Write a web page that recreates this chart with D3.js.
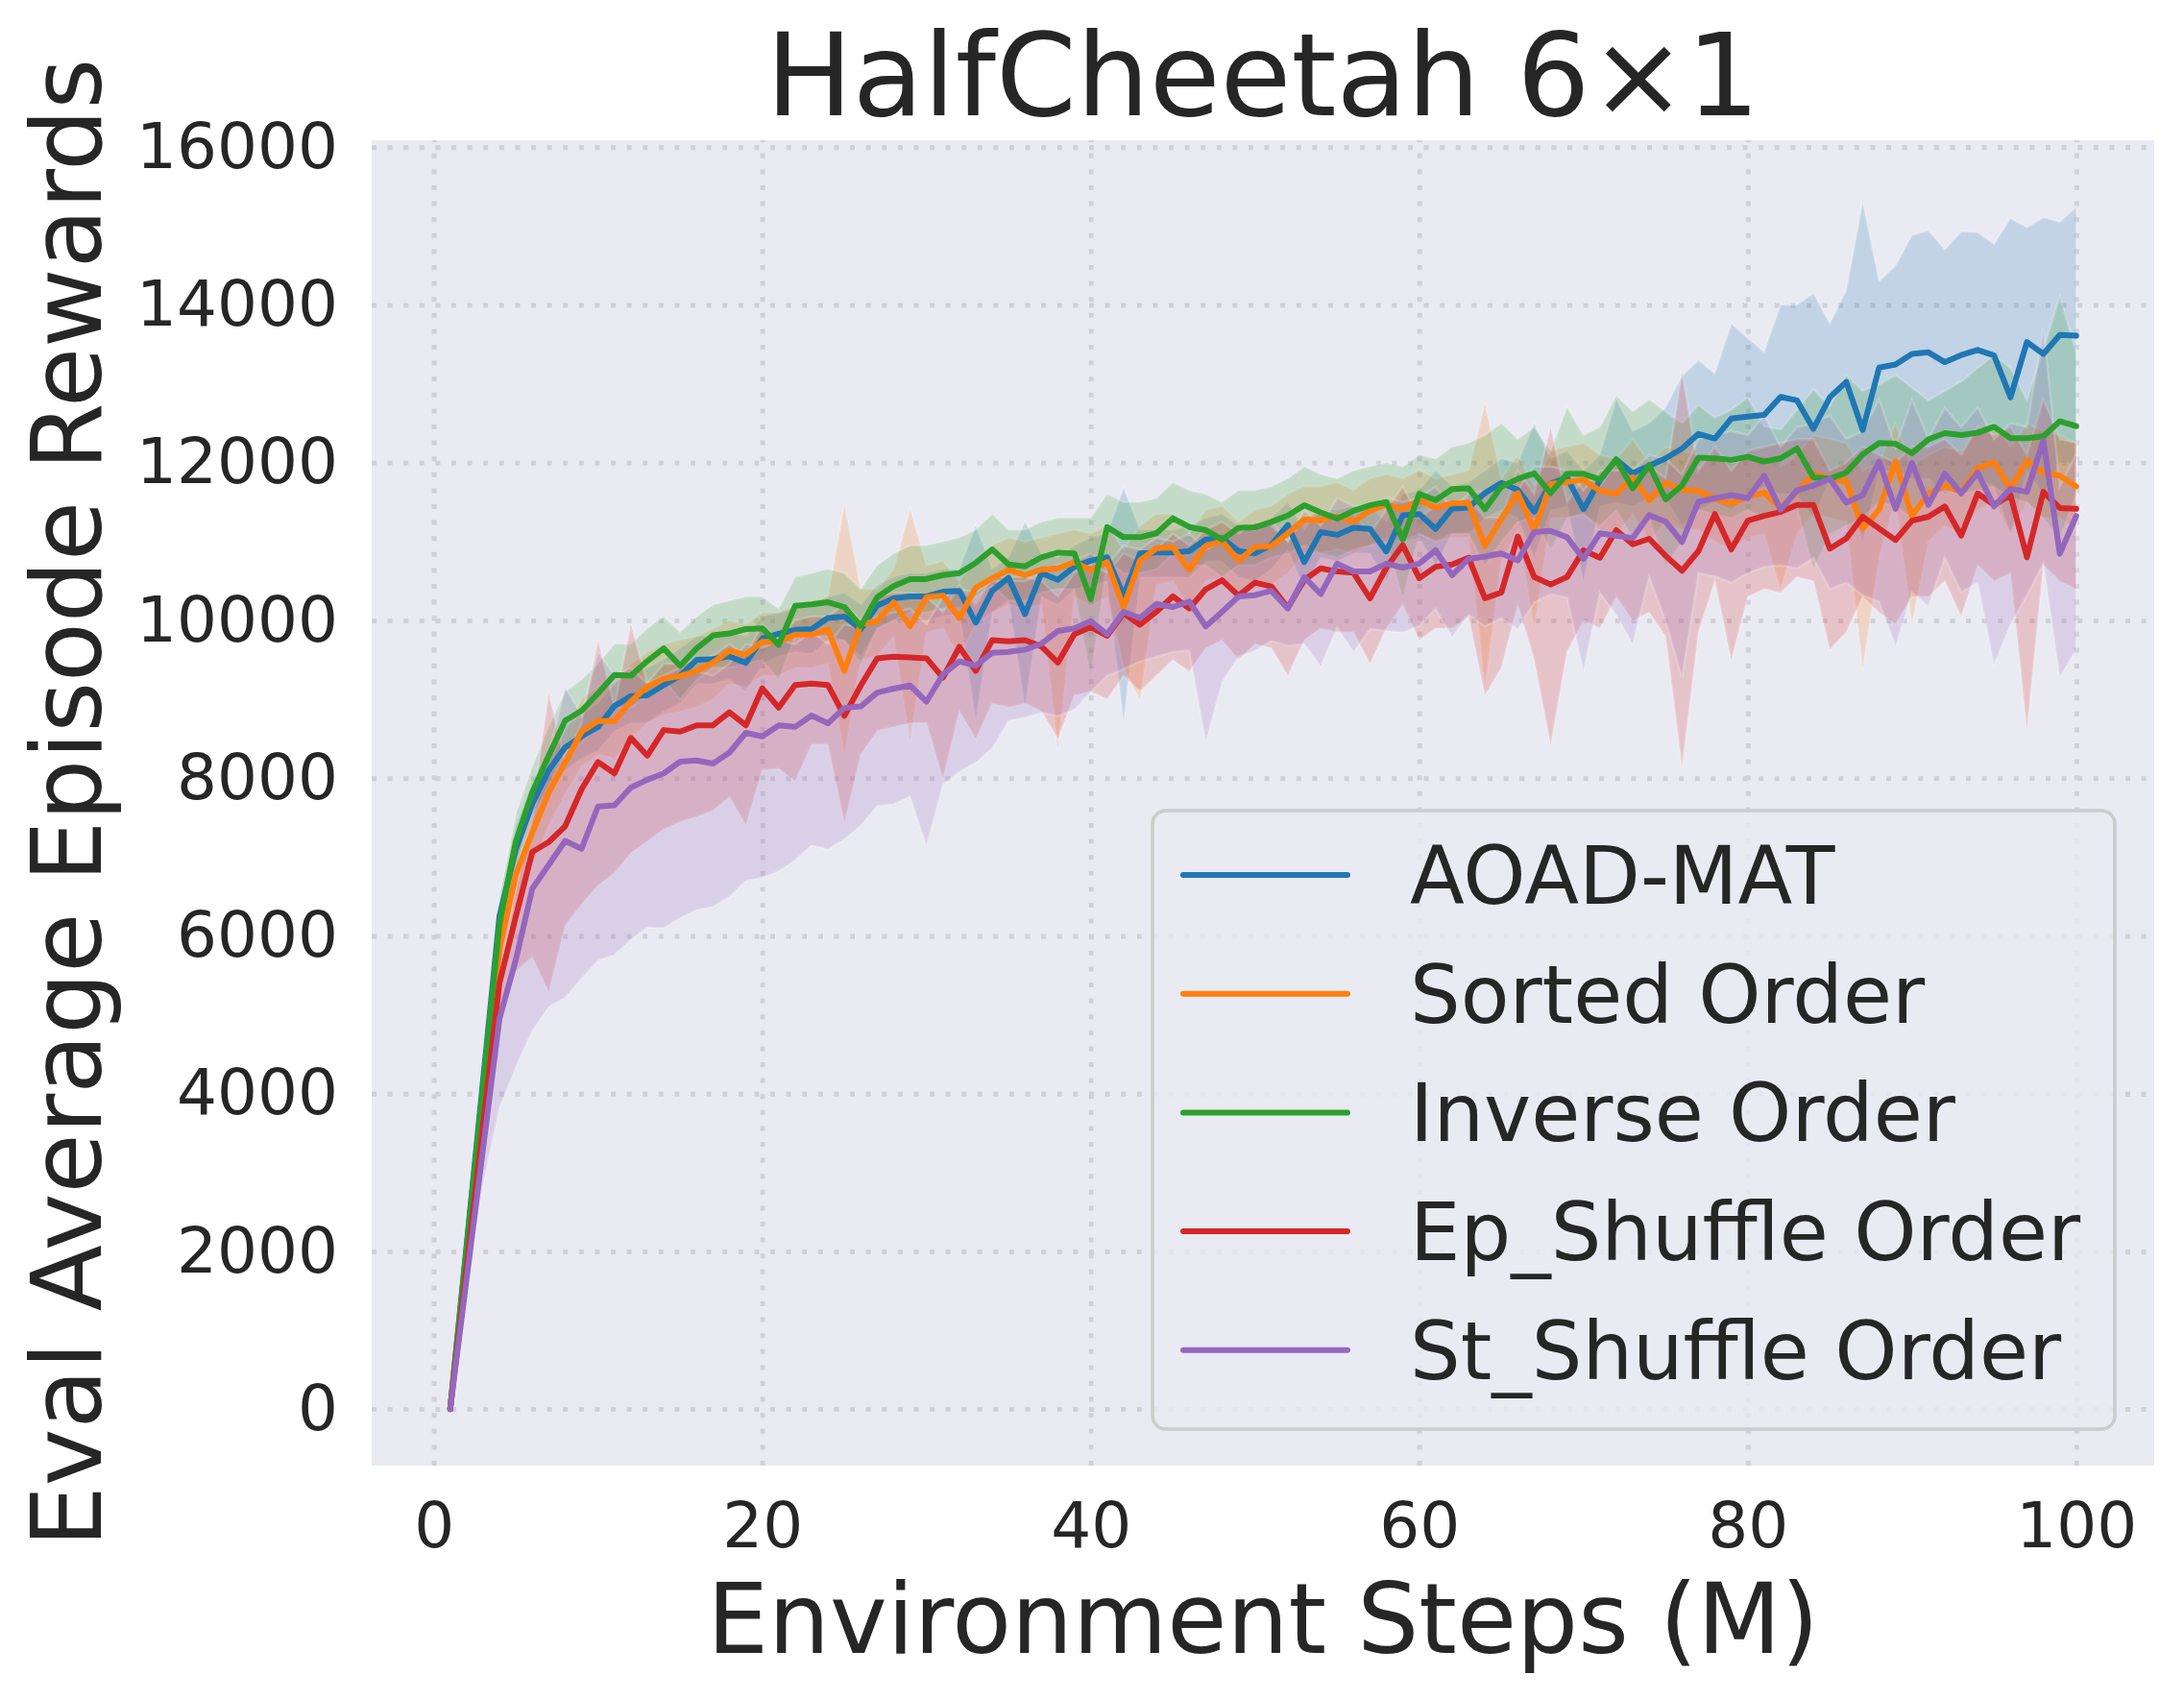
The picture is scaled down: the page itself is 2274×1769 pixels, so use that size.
<!DOCTYPE html>
<html>
<head>
<meta charset="utf-8">
<script src="https://cdn.jsdelivr.net/npm/d3@7"></script>
<style>
body { margin: 0; background: #fff; }
text { font-family: "DejaVu Sans", sans-serif; fill: #262626; }
</style>
</head>
<body>
<svg class="chart"></svg>
<script>

// environment steps (M), one eval per million steps
var steps = d3.range(1, 101);

var xTicks = [0, 20, 40, 60, 80, 100];
var yTicks = [0, 2000, 4000, 6000, 8000, 10000, 12000, 14000, 16000];

var names = ["AOAD-MAT", "Sorted Order", "Inverse Order", "Ep_Shuffle Order", "St_Shuffle Order"];
var colors = ["#1f77b4", "#ff7f0e", "#2ca02c", "#d62728", "#9467bd"];

// mean curves
var aoadMat = [0, 2080, 4170, 6250, 7100, 7675, 8100, 8390, 8530, 8650,
  8915, 9040, 9050, 9180, 9300, 9500, 9510, 9545, 9460, 9770,
  9830, 9880, 9890, 10030, 10050, 9890, 10190, 10280, 10305, 10305,
  10365, 10375, 9970, 10375, 10540, 10080, 10600, 10515, 10680, 10760,
  10800, 10315, 10850, 10860, 10860, 10880, 11025, 11045, 10880, 10850,
  10960, 11210, 10740, 11120, 11085, 11175, 11160, 10875, 11335, 11350,
  11160, 11420, 11430, 11615, 11745, 11655, 11380, 11735, 11810, 11410,
  11775, 12040, 11865, 11960, 12055, 12180, 12365, 12305, 12560, 12585,
  12605, 12835, 12790, 12430, 12830, 13025, 12415, 13205, 13245, 13380,
  13400, 13275, 13365, 13430, 13360, 12830, 13530, 13380, 13620, 13610];

var sortedOrder = [0, 1950, 3900, 5830, 6780, 7310, 7820, 8200, 8590, 8725,
  8725, 8975, 9160, 9260, 9295, 9360, 9465, 9615, 9565, 9730,
  9730, 9820, 9820, 9885, 9360, 9955, 9990, 10230, 9925, 10295,
  10315, 10030, 10415, 10535, 10640, 10575, 10645, 10660, 10740, 10640,
  10740, 10170, 10760, 10915, 10925, 10640, 10945, 11005, 10760, 10930,
  10945, 11105, 11280, 11270, 11320, 11255, 11390, 11470, 11410, 11525,
  11430, 11485, 11490, 10945, 11290, 11615, 11145, 11730, 11755, 11785,
  11645, 11605, 11815, 11525, 11745, 11660, 11640, 11540, 11480, 11570,
  11620, 11425, 11630, 11855, 11795, 11770, 11165, 11405, 12015, 11325,
  11610, 11710, 11630, 11935, 12005, 11670, 12025, 11875, 11835, 11700];

var inverseOrder = [0, 2050, 4100, 6150, 7200, 7820, 8285, 8730, 8855, 9075,
  9310, 9300, 9485, 9645, 9425, 9645, 9810, 9835, 9890, 9900,
  9690, 10185, 10205, 10230, 10170, 9925, 10295, 10435, 10525, 10525,
  10575, 10600, 10730, 10900, 10710, 10685, 10800, 10860, 10850, 10270,
  11185, 11055, 11055, 11105, 11295, 11185, 11145, 11025, 11175, 11180,
  11250, 11330, 11460, 11370, 11290, 11390, 11460, 11500, 11025, 11605,
  11525, 11665, 11675, 11410, 11695, 11795, 11865, 11615, 11860, 11860,
  11785, 12040, 11675, 11970, 11535, 11710, 12065, 12055, 12035, 12075,
  12015, 12055, 12180, 11815, 11795, 11875, 12105, 12250, 12240, 12120,
  12295, 12375, 12350, 12380, 12455, 12310, 12310, 12335, 12525, 12465];

var epShuffle = [0, 1800, 3600, 5400, 6250, 7065, 7190, 7390, 7860, 8205,
  8060, 8510, 8285, 8610, 8590, 8670, 8670, 8835, 8670, 9140,
  8895, 9180, 9200, 9180, 8790, 9175, 9520, 9540, 9530, 9520,
  9275, 9665, 9360, 9750, 9735, 9750, 9670, 9465, 9825, 9915,
  9805, 10090, 9945, 10110, 10305, 10150, 10395, 10510, 10315, 10480,
  10430, 10160, 10515, 10660, 10620, 10605, 10280, 10670, 10955, 10535,
  10680, 10710, 10795, 10280, 10355, 11065, 10550, 10455, 10550, 10890,
  10795, 11145, 10965, 11035, 10820, 10630, 10880, 11350, 10900, 11265,
  11325, 11375, 11465, 11465, 10910, 11040, 11315, 11165, 11020, 11265,
  11315, 11445, 11075, 11610, 11465, 11590, 10800, 11630, 11425, 11415];

var stShuffle = [0, 1650, 3300, 4950, 5700, 6600, 6900, 7205, 7105, 7640,
  7655, 7880, 7980, 8060, 8210, 8225, 8185, 8325, 8575, 8530,
  8670, 8650, 8795, 8695, 8890, 8910, 9085, 9135, 9175, 8970,
  9315, 9480, 9425, 9590, 9600, 9630, 9705, 9865, 9900, 9990,
  9825, 10110, 10030, 10210, 10170, 10240, 9925, 10110, 10305, 10320,
  10375, 10150, 10550, 10335, 10720, 10620, 10620, 10720, 10670, 10720,
  10890, 10575, 10780, 10810, 10850, 10760, 11120, 11135, 11055, 10780,
  11105, 11075, 11045, 11335, 11255, 10995, 11505, 11550, 11590, 11550,
  11835, 11405, 11650, 11710, 11795, 11495, 11590, 12015, 11415, 11995,
  11465, 11860, 11610, 11875, 11445, 11670, 11630, 12280, 10845, 11325];

// shaded band edges (lower / upper)
var aoadMatLo = [0, 1950, 3950, 6000, 6800, 7400, 7850, 8100, 8250, 8350,
  8600, 8700, 8700, 8850, 8950, 9200, 9200, 9250, 9100, 9450,
  9550, 9600, 9580, 9750, 9750, 9550, 9900, 10000, 10000, 10000,
  10050, 10100, 8730, 10100, 10250, 8910, 10300, 10200, 10400, 10450,
  10500, 8710, 10550, 10550, 10550, 10550, 10750, 10750, 10550, 10500,
  10650, 10900, 10400, 10800, 10750, 10850, 10850, 10500, 11000, 11050,
  10700, 11100, 11100, 11300, 11400, 11300, 10800, 11400, 11450, 10500,
  11450, 11500, 11450, 11550, 11550, 11200, 11400, 11500, 11400, 11600,
  11700, 11600, 11600, 11300, 11800, 11700, 11000, 11900, 11900, 11800,
  11800, 11600, 11700, 11800, 11700, 11100, 11900, 11600, 12000, 12000];
var aoadMatHi = [0, 2200, 4400, 6500, 7400, 7950, 8350, 8650, 8800, 8950,
  9200, 9350, 9400, 9500, 9650, 9800, 9800, 9850, 9800, 10050,
  10100, 10150, 10200, 10300, 10350, 10200, 10450, 10550, 10600, 10600,
  10650, 10650, 11200, 10650, 10800, 11250, 10850, 10800, 10950, 11050,
  11100, 11680, 11150, 11150, 11150, 11200, 11300, 11350, 11200, 11150,
  11300, 11500, 11150, 11400, 11400, 11450, 11450, 11250, 11600, 11650,
  11900, 11700, 11750, 11900, 12050, 12000, 12500, 12050, 12150, 11900,
  12100, 12800, 12400, 12500, 12700, 13100, 13300, 13130, 13760, 13580,
  13400, 14000, 14000, 14150, 13760, 14190, 15300, 14300, 14500, 14880,
  14940, 14700, 14930, 14920, 14770, 15100, 14980, 15110, 15050, 15240];

var sortedOrderLo = [0, 1800, 3600, 5450, 6350, 6900, 7400, 7800, 8150, 8300,
  8250, 8500, 8700, 8800, 8850, 8900, 9000, 9200, 9150, 9300,
  9300, 9400, 9400, 9450, 8300, 9500, 9550, 9800, 8460, 9850,
  9900, 9550, 9950, 10100, 10200, 10150, 10200, 8360, 10300, 10200,
  10300, 9400, 8990, 10450, 10500, 10150, 10500, 10550, 10300, 10450,
  10450, 10600, 10850, 10850, 10900, 10850, 10950, 11050, 11000, 11100,
  11000, 11050, 11050, 9150, 10750, 11150, 9900, 11300, 11300, 11350,
  11150, 11100, 11350, 11000, 11250, 11150, 11150, 11000, 10900, 11050,
  11100, 10380, 11100, 11350, 11300, 11250, 9380, 10800, 11550, 9950,
  11000, 11200, 11100, 11400, 11500, 11100, 11500, 11300, 11300, 11150];
var sortedOrderHi = [0, 2100, 4200, 6200, 7200, 7700, 8200, 8600, 9000, 9150,
  9200, 9450, 9600, 9700, 9750, 9800, 9900, 10000, 9950, 10100,
  10100, 10200, 10250, 10300, 11470, 10400, 10400, 10650, 11410, 10700,
  10750, 10500, 10800, 10950, 11050, 11000, 11050, 11100, 11150, 11100,
  11200, 10900, 11200, 11350, 11350, 11100, 11400, 11450, 11250, 11400,
  11450, 11600, 11700, 11700, 11750, 11650, 11800, 11850, 11800, 11900,
  11800, 11850, 11900, 12750, 11800, 12100, 11700, 12150, 12200, 12250,
  12100, 12050, 12300, 12000, 12200, 12150, 12100, 12050, 12000, 12050,
  12100, 11950, 12100, 12350, 12300, 12250, 11900, 12000, 12500, 11950,
  12100, 12200, 12150, 12450, 12500, 12200, 12500, 12400, 12350, 12250];

var inverseOrderLo = [0, 1900, 3800, 5850, 6850, 7500, 7900, 8350, 8450, 8700,
  8900, 8900, 9050, 9250, 9000, 9250, 9400, 9400, 9450, 9500,
  9250, 9800, 9800, 9800, 9750, 9450, 9900, 10000, 10100, 10100,
  10150, 10150, 10300, 10450, 10250, 10250, 10350, 10400, 10400, 9300,
  10750, 10600, 10600, 10650, 10850, 10700, 10700, 10550, 10700, 10700,
  10800, 10850, 10950, 10850, 10800, 10900, 10950, 11000, 10300, 11100,
  11000, 11100, 11100, 10700, 11000, 11250, 11300, 10900, 11300, 11350,
  11200, 11400, 11050, 11300, 10700, 11000, 11400, 11350, 11300, 11400,
  11300, 11350, 11450, 10650, 11100, 11200, 11300, 11500, 11450, 11300,
  11550, 11650, 11600, 11650, 11700, 11550, 11500, 11300, 11050, 11600];
var inverseOrderHi = [0, 2200, 4400, 6450, 7550, 8150, 8650, 9100, 9250, 9450,
  9700, 9700, 9900, 10050, 9850, 10050, 10200, 10250, 10300, 10300,
  10150, 10550, 10600, 10650, 10600, 10400, 10700, 10850, 10950, 10950,
  11000, 11050, 11150, 11350, 11150, 11150, 11250, 11300, 11300, 11300,
  11600, 11500, 11500, 11550, 11750, 11650, 11600, 11500, 11650, 11650,
  11700, 11800, 11950, 11850, 11800, 11900, 11950, 12000, 11950, 12100,
  12050, 12200, 12250, 12350, 12500, 12300, 12450, 12150, 12700, 12350,
  12450, 12850, 12650, 12800, 12650, 12500, 12730, 12570, 12670, 12830,
  12460, 12420, 12670, 12930, 12710, 13110, 12910, 12990, 13110, 12950,
  12790, 12910, 13030, 13200, 13360, 13200, 12790, 13440, 14110, 13400];

var epShuffleLo = [0, 1650, 3300, 4950, 5550, 5730, 5290, 6130, 6400, 6640,
  6800, 7050, 7200, 7350, 7450, 7510, 7590, 7760, 7410, 8100,
  8120, 7960, 8430, 8430, 7430, 8300, 8600, 8650, 8700, 8700,
  8000, 8850, 8500, 8950, 8900, 8950, 8850, 8500, 9050, 9100,
  9000, 9300, 9100, 9300, 9500, 9350, 9650, 9750, 9500, 9700,
  9650, 9300, 9750, 9900, 9850, 9850, 9450, 9900, 10200, 9750,
  9900, 9900, 10050, 9050, 9400, 10200, 9500, 8420, 9600, 10000,
  9900, 10300, 10000, 10100, 9800, 8140, 9850, 10500, 9500, 10300,
  10400, 10350, 10550, 10500, 9630, 9850, 10300, 10100, 9950, 10300,
  10300, 10500, 10050, 10700, 10500, 10600, 8610, 10700, 10500, 10400];
var epShuffleHi = [0, 1950, 3900, 5800, 6800, 7600, 9080, 8200, 8700, 9750,
  8900, 9950, 9200, 9450, 9450, 9500, 9550, 9700, 9550, 9950,
  9750, 10000, 10050, 10050, 10200, 10000, 10300, 10350, 10350, 10300,
  10100, 10450, 10200, 10550, 10550, 10550, 10500, 10300, 10600, 10700,
  10600, 10850, 10750, 10900, 11100, 10950, 11150, 11250, 11100, 11250,
  11200, 11000, 11300, 11400, 11350, 11350, 11100, 11400, 11700, 11300,
  11450, 11500, 11550, 11300, 11300, 11900, 11600, 12450, 11500, 11800,
  11700, 12000, 11900, 11950, 11800, 13150, 11900, 12200, 11900, 12150,
  12200, 12250, 12300, 12300, 11900, 12000, 12200, 12100, 12000, 12200,
  12200, 12300, 12100, 12450, 12350, 12450, 12100, 12800, 12300, 12250];

var stShuffleLo = [0, 1500, 2850, 3820, 4340, 4800, 5100, 5220, 5460, 5690,
  5760, 5950, 6110, 6100, 6230, 6330, 6370, 6500, 6700, 6740,
  6820, 6960, 7150, 7100, 7230, 7400, 7650, 7670, 7770, 7140,
  7920, 8080, 8200, 8380, 8730, 8770, 8830, 8790, 8870, 9090,
  9300, 9380, 9480, 9540, 9600, 9620, 8460, 9220, 9540, 9620,
  9740, 9680, 9700, 9420, 9910, 9600, 9890, 9870, 9850, 9930,
  10150, 9790, 10070, 9930, 10030, 9890, 10230, 10330, 10290, 9360,
  10350, 10070, 9700, 10560, 9990, 9280, 10600, 10560, 10480, 10600,
  10680, 10700, 10660, 10790, 10400, 10480, 10320, 10240, 9670, 10360,
  10180, 10800, 10360, 10480, 9440, 9950, 10320, 10720, 9280, 9630];
var stShuffleHi = [0, 1800, 3600, 5400, 6600, 7500, 8300, 9160, 8800, 9600,
  9300, 9400, 9200, 9300, 9400, 9350, 9300, 9450, 9700, 9650,
  9750, 9700, 9850, 9700, 9950, 9900, 10050, 10100, 10150, 9950,
  10300, 10400, 10350, 10500, 10500, 10500, 10600, 10700, 10750, 10850,
  10700, 10950, 10900, 11050, 11000, 11100, 10900, 11000, 11200, 11150,
  11250, 11000, 11400, 11200, 11550, 11450, 11450, 11550, 11500, 11550,
  11700, 11400, 11600, 11650, 11700, 11650, 11950, 11950, 11900, 11650,
  11900, 11900, 11900, 12100, 12050, 11850, 12300, 12350, 12400, 12350,
  12600, 12200, 12450, 12500, 12600, 12300, 12400, 12800, 12200, 12800,
  12300, 12700, 12450, 12700, 12300, 12500, 12450, 13700, 11700, 12100];

var means = [aoadMat, sortedOrder, inverseOrder, epShuffle, stShuffle];
var lows = [aoadMatLo, sortedOrderLo, inverseOrderLo, epShuffleLo, stShuffleLo];
var highs = [aoadMatHi, sortedOrderHi, inverseOrderHi, epShuffleHi, stShuffleHi];

var series = names.map(function(n, i) {
	return {
		name: n,
		color: colors[i],
		values: steps.map(function(s, j) {
			return {step: s, mean: means[i][j], lo: lows[i][j], hi: highs[i][j]};
		})
	};
});

var margin = {top: 146, right: 31, bottom: 243, left: 387},
	width = 2274 - margin.left - margin.right,
	height = 1769 - margin.top - margin.bottom;

var x = d3.scaleLinear()
	.domain([-3.78, 104.75])
	.range([0, width]);

var y = d3.scaleLinear()
	.domain([-717, 16089])
	.range([height, 0]);

var xAxis = d3.axisBottom(x)
	.tickValues(xTicks)
	.tickSize(-height)
	.tickPadding(38)
	.tickFormat(d3.format("d"));

var yAxis = d3.axisLeft(y)
	.tickValues(yTicks)
	.tickSize(-width)
	.tickPadding(35)
	.tickFormat(d3.format("d"));

var svg = d3.select(".chart")
	.attr("width", 2274)
	.attr("height", 1769);

svg.append("rect")
	.attr("width", 2274)
	.attr("height", 1769)
	.attr("fill", "#ffffff");

var chart = svg.append("g")
	.attr("transform", "translate(" + margin.left + "," + margin.top + ")");

chart.append("rect")
	.attr("width", width)
	.attr("height", height)
	.attr("fill", "#eaeaf2");

// dotted grid comes from the axes' long ticks
chart.append("g")
	.attr("class", "x axis")
	.attr("transform", "translate(0," + height + ")")
	.call(xAxis);

chart.append("g")
	.attr("class", "y axis")
	.call(yAxis);

chart.selectAll(".axis .domain").remove();
chart.selectAll(".axis .tick line")
	.attr("stroke", "#d0d0d7")
	.attr("stroke-width", 5)
	.attr("stroke-dasharray", "5,11.6");
chart.selectAll(".axis .tick text")
	.attr("fill", "#262626")
	.style("font-size", "66px")
	.style("font-family", "DejaVu Sans");

var area = d3.area()
	.x(function(d) { return x(d.step); })
	.y0(function(d) { return y(d.lo); })
	.y1(function(d) { return y(d.hi); });

var line = d3.line()
	.x(function(d) { return x(d.step); })
	.y(function(d) { return y(d.mean); });

// bands first, then lines on top (matplotlib zorder)
chart.append("g").selectAll("path")
	.data(series)
  .enter().append("path")
	.attr("d", function(d) { return area(d.values); })
	.attr("fill", function(d) { return d.color; })
	.attr("fill-opacity", 0.2)
	.attr("stroke", "#ffffff")
	.attr("stroke-opacity", 0.2)
	.attr("stroke-width", 2.5);

chart.append("g").selectAll("path")
	.data(series)
  .enter().append("path")
	.attr("d", function(d) { return line(d.values); })
	.attr("fill", "none")
	.attr("stroke", function(d) { return d.color; })
	.attr("stroke-width", 6)
	.attr("stroke-linejoin", "round")
	.attr("stroke-linecap", "round");

// legend
var legend = chart.append("g")
	.attr("transform", "translate(813,698)");

legend.append("rect")
	.attr("width", 1002)
	.attr("height", 644)
	.attr("rx", 14)
	.attr("fill", "#eaeaf2")
	.attr("fill-opacity", 0.8)
	.attr("stroke", "#cccccc")
	.attr("stroke-width", 3.5);

var item = legend.selectAll(".item")
	.data(series)
  .enter().append("g")
	.attr("class", "item")
	.attr("transform", function(d, i) { return "translate(0," + (67 + i * 123.7) + ")"; });

item.append("line")
	.attr("x1", 32)
	.attr("x2", 203)
	.attr("stroke", function(d) { return d.color; })
	.attr("stroke-width", 6)
	.attr("stroke-linecap", "round");

item.append("text")
	.attr("x", 268)
	.attr("dy", "0.36em")
	.style("font-size", "83px")
	.text(function(d) { return d.name; });

// titles
chart.append("text")
	.attr("x", width / 2)
	.attr("y", -26)
	.attr("text-anchor", "middle")
	.style("font-size", "120px")
	.text("HalfCheetah 6\u00d71");

chart.append("text")
	.attr("x", width / 2)
	.attr("y", 1575)
	.attr("text-anchor", "middle")
	.style("font-size", "101px")
	.text("Environment Steps (M)");

chart.append("text")
	.attr("transform", "rotate(-90)")
	.attr("x", -height / 2)
	.attr("y", -282)
	.attr("text-anchor", "middle")
	.style("font-size", "101px")
	.text("Eval Average Episode Rewards");

</script>
</body>
</html>
